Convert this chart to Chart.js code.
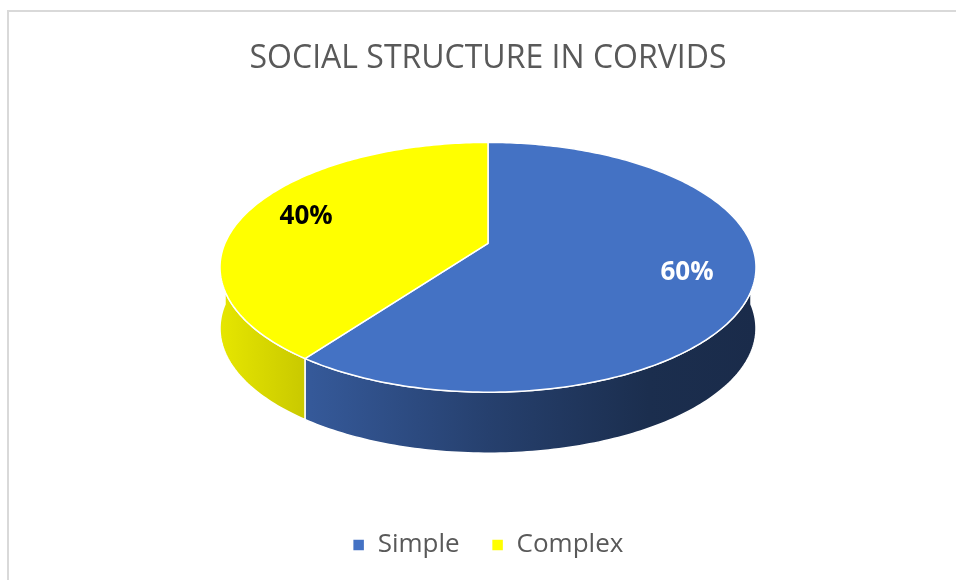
<!DOCTYPE html>
<html>
<head>
<meta charset="utf-8">
<script src="https://cdn.jsdelivr.net/npm/chart.js@4/dist/chart.umd.min.js"></script>
<style>
  html, body { margin: 0; padding: 0; background: #fff; }
  #frame { position: absolute; left: 7px; top: 10px; right: 0; bottom: 0; border-left: 2px solid #d9d9d9; border-top: 2px solid #d9d9d9; }
  #wrap { position: absolute; left: 0; top: 0; width: 956px; height: 580px; }
</style>
</head>
<body>
<div id="frame"></div>
<div id="wrap"><canvas id="chart"></canvas></div>
<script>
const labels = ['Simple', 'Complex'];
const shares = [60, 40];
const colors = ['#4472C4', '#FFFF00'];
const labelColors = ['#ffffff', '#000000'];

// look of the 3d disc
const tilt = 0.466;     // screen height / width of the top face
const persp = -0.192;   // perspective, near edge looks bigger
const depth = 61;       // thickness in px
const labelRadius = 0.76;

function shade(hex, f) {
  const n = parseInt(hex.slice(1), 16);
  const r = Math.round(((n >> 16) & 255) * f);
  const g = Math.round(((n >> 8) & 255) * f);
  const b = Math.round((n & 255) * f);
  return 'rgb(' + r + ',' + g + ',' + b + ')';
}

// projection of the unit disc onto the screen, sized from the chart area
function view(chart) {
  const area = chart.chartArea;
  const w = (area.right - area.left) / 2;
  const top = area.top;
  const bottom = top + 2 * w * tilt;
  const e = (top * (1 - persp) + bottom * (1 + persp)) / 2;
  const d = (bottom * (1 + persp) - top * (1 - persp)) / 2;
  const a = w * Math.sqrt(1 - persp * persp);
  const cx = (area.left + area.right) / 2;
  return function (ang, r, dy) {
    const u = r * Math.cos(ang), v = r * Math.sin(ang);
    const den = 1 + persp * v;
    return [cx + a * u / den, (e + d * v) / den + (dy || 0)];
  };
}

function trace(ctx, P, a0, a1, dy, first) {
  const n = Math.max(2, Math.ceil(Math.abs(a1 - a0) * 60));
  for (let k = 0; k <= n; k++) {
    const p = P(a0 + (a1 - a0) * k / n, 1, dy);
    if (k === 0 && first) ctx.moveTo(p[0], p[1]); else ctx.lineTo(p[0], p[1]);
  }
}

const disc3d = {
  id: 'disc3d',
  beforeDatasetsDraw(chart) {
    const ctx = chart.ctx;
    const P = view(chart);
    const area = chart.chartArea;
    const arcs = chart.getDatasetMeta(0).data;
    const TAU = Math.PI * 2;
    // outer wall, only the front half shows
    arcs.forEach((arc, i) => {
      let s = arc.startAngle, e = arc.endAngle;
      while (s < 0) { s += TAU; e += TAU; }
      [[s, e], [s - TAU, e - TAU]].forEach(p => {
        const a0 = Math.max(p[0], 0), a1 = Math.min(p[1], Math.PI);
        if (a1 <= a0) return;
        const grad = ctx.createLinearGradient(area.left, 0, area.right, 0);
        grad.addColorStop(0, shade(colors[i], 0.9));
        grad.addColorStop(0.17, shade(colors[i], 0.78));
        grad.addColorStop(0.5, shade(colors[i], 0.56));
        grad.addColorStop(0.8, shade(colors[i], 0.4));
        grad.addColorStop(1, shade(colors[i], 0.38));
        ctx.save();
        ctx.beginPath();
        trace(ctx, P, a0, a1, 0, true);
        trace(ctx, P, a1, a0, depth, false);
        ctx.closePath();
        ctx.fillStyle = grad;
        ctx.fill();
        ctx.strokeStyle = '#ffffff';
        ctx.lineWidth = 1.5;
        ctx.stroke();
        ctx.restore();
      });
    });
  },
  beforeDatasetDraw() {
    return false; // top face is drawn below in perspective
  },
  afterDatasetsDraw(chart) {
    const ctx = chart.ctx;
    const P = view(chart);
    const arcs = chart.getDatasetMeta(0).data;
    ctx.save();
    arcs.forEach((arc) => {
      const c = P(0, 0);
      ctx.beginPath();
      ctx.moveTo(c[0], c[1]);
      trace(ctx, P, arc.startAngle, arc.endAngle, 0, false);
      ctx.closePath();
      ctx.fillStyle = arc.options.backgroundColor;
      ctx.fill();
      ctx.strokeStyle = arc.options.borderColor;
      ctx.lineWidth = arc.options.borderWidth;
      ctx.lineJoin = 'round';
      ctx.stroke();
    });
    const total = shares.reduce((a, b) => a + b, 0);
    ctx.font = 'bold 26px "Open Sans"';
    ctx.textAlign = 'center';
    ctx.textBaseline = 'middle';
    arcs.forEach((arc, i) => {
      const p = P((arc.startAngle + arc.endAngle) / 2, labelRadius);
      ctx.fillStyle = labelColors[i];
      ctx.fillText(Math.round(shares[i] / total * 100) + '%', p[0], p[1]);
    });
    ctx.restore();
  }
};

new Chart(document.getElementById('chart'), {
  type: 'pie',
  data: {
    labels: labels,
    datasets: [{
      data: shares,
      backgroundColor: colors,
      borderColor: '#ffffff',
      borderWidth: 1.5
    }]
  },
  options: {
    responsive: true,
    maintainAspectRatio: false,
    animation: false,
    layout: { padding: { left: 220, right: 200, top: 0, bottom: 12 } },
    plugins: {
      title: {
        display: true,
        text: 'SOCIAL STRUCTURE IN CORVIDS',
        color: '#595959',
        font: { family: '"Open Sans"', size: 32, weight: 'normal' },
        padding: { top: 40, bottom: 64 }
      },
      legend: {
        position: 'bottom',
        labels: {
          color: '#595959',
          font: { family: '"Open Sans"', size: 26 },
          boxWidth: 12,
          boxHeight: 12,
          padding: 32
        }
      },
      tooltip: { enabled: false }
    }
  },
  plugins: [disc3d]
});
</script>
</body>
</html>
